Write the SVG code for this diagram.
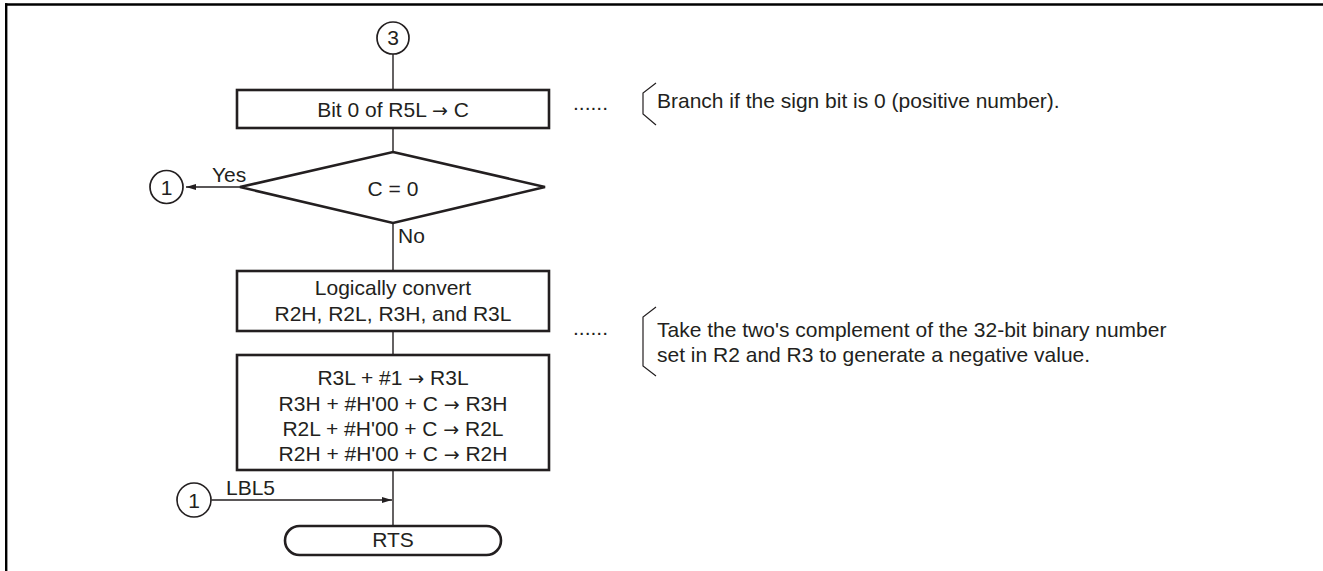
<svg xmlns="http://www.w3.org/2000/svg" width="1323" height="571" viewBox="0 0 1323 571">
<style>
text{font-family:"Liberation Sans",Arial,sans-serif;font-size:21px;fill:#231f20}
.c{text-anchor:middle}
.ar{font-family:"DejaVu Sans",sans-serif;font-size:19px}
.box{fill:#fff;stroke:#231f20;stroke-width:2.6}
.ln{fill:none;stroke:#231f20;stroke-width:1.4}
.circ{fill:#fff;stroke:#231f20;stroke-width:1.7}
.br{fill:none;stroke:#231f20;stroke-width:1.2}
</style>
<defs>
<marker id="ah" viewBox="0 0 10 6" refX="10" refY="3" markerWidth="10" markerHeight="6" markerUnits="userSpaceOnUse" orient="auto">
<path d="M0,0 L10,3 L0,6 Z" fill="#231f20"/>
</marker>
</defs>
<g id="frame">
<line x1="5" y1="4.5" x2="1323" y2="4.5" stroke="#000" stroke-width="2.4"/>
<line x1="6.2" y1="3.3" x2="6.2" y2="571" stroke="#000" stroke-width="2.4"/>
</g>
<g id="connectors">
<line class="ln" x1="393" y1="53" x2="393" y2="90"/>
<line class="ln" x1="393" y1="128" x2="393" y2="152"/>
<line class="ln" x1="393" y1="223" x2="393" y2="271"/>
<line class="ln" x1="393" y1="331" x2="393" y2="355"/>
<line class="ln" x1="393" y1="470" x2="393" y2="526"/>
<line class="ln" x1="240" y1="187" x2="186" y2="187" marker-end="url(#ah)"/>
<line class="ln" x1="211.5" y1="500" x2="392" y2="500" marker-end="url(#ah)"/>
<text x="212" y="182">Yes</text>
<text x="398" y="243">No</text>
<text x="226" y="495">LBL5</text>
</g>
<g id="conn3">
<circle class="circ" cx="393" cy="38" r="16"/>
<text class="c" x="393" y="45">3</text>
</g>
<g id="box1">
<rect class="box" x="237" y="90" width="312" height="38"/>
<text class="c" x="393" y="117">Bit 0 of R5L <tspan class="ar">→</tspan> C</text>
</g>
<g id="decision">
<polygon class="box" points="393,152 545,187 393,223 240,187"/>
<text class="c" x="393" y="196">C = 0</text>
</g>
<g id="conn1a">
<circle class="circ" cx="166.5" cy="187" r="16.5"/>
<text class="c" x="166.5" y="194.5">1</text>
</g>
<g id="box2">
<rect class="box" x="237" y="271" width="312" height="60"/>
<text class="c" x="393" y="295">Logically convert</text>
<text class="c" x="393" y="321">R2H, R2L, R3H, and R3L</text>
</g>
<g id="box3">
<rect class="box" x="237" y="355" width="312" height="115"/>
<text class="c" x="393" y="385">R3L + #1 <tspan class="ar">→</tspan> R3L</text>
<text class="c" x="393" y="410.5">R3H + #H'00 + C <tspan class="ar">→</tspan> R3H</text>
<text class="c" x="393" y="436">R2L + #H'00 + C <tspan class="ar">→</tspan> R2L</text>
<text class="c" x="393" y="461">R2H + #H'00 + C <tspan class="ar">→</tspan> R2H</text>
</g>
<g id="conn1b">
<circle class="circ" cx="194" cy="500" r="17"/>
<text class="c" x="194" y="507.5">1</text>
</g>
<g id="rts">
<rect class="box" x="285" y="526" width="216" height="29" rx="14.5" ry="14.5"/>
<text class="c" x="393" y="547">RTS</text>
</g>
<g id="note1">
<text x="573" y="110">......</text>
<polyline class="br" points="656,83 643,93 643,114 656,125"/>
<text x="657" y="108">Branch if the sign bit is 0 (positive number).</text>
</g>
<g id="note2">
<text x="573" y="335">......</text>
<polyline class="br" points="656,307 643,317 643,366 656,376"/>
<text x="657" y="337">Take the two's complement of the 32-bit binary number</text>
<text x="657" y="362">set in R2 and R3 to generate a negative value.</text>
</g>
</svg>
